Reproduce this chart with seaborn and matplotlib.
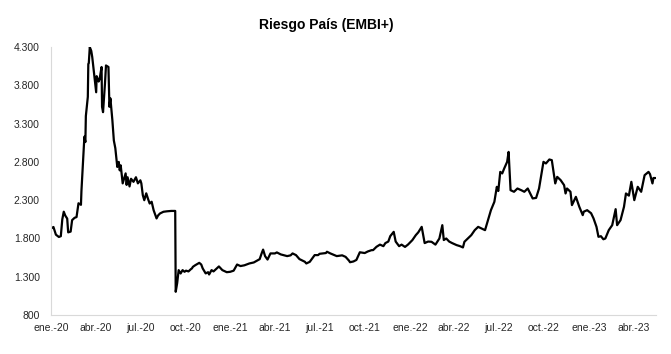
# Libraries
import pandas as pd
import seaborn as sns
import matplotlib.pyplot as plt
import matplotlib.dates as mdates
from matplotlib.ticker import FixedLocator, FuncFormatter

# -----------------------------------
# Configuration
# -----------------------------------
sns.set_theme(style="white")
plt.rcParams['font.family'] = ['Liberation Sans', 'DejaVu Sans']

# -----------------------------------
# Data
# -----------------------------------
fechas = [
    # 2020
    "2020-01-01", "2020-01-06", "2020-01-11", "2020-01-17", "2020-01-21", "2020-01-24",
    "2020-01-27", "2020-01-30", "2020-02-03", "2020-02-05", "2020-02-10", "2020-02-13",
    "2020-02-18", "2020-02-22", "2020-02-26", "2020-03-02", "2020-03-03", "2020-03-06",
    "2020-03-09", "2020-03-11", "2020-03-12", "2020-03-16", "2020-03-17", "2020-03-18",
    "2020-03-20", "2020-03-23", "2020-03-25", "2020-03-30", "2020-04-02", "2020-04-03",
    "2020-04-07", "2020-04-09", "2020-04-13", "2020-04-14", "2020-04-16", "2020-04-20",
    "2020-04-22", "2020-04-27", "2020-04-29", "2020-05-01", "2020-05-05", "2020-05-08",
    "2020-05-11", "2020-05-15", "2020-05-18", "2020-05-20", "2020-05-22", "2020-05-26",
    "2020-06-01", "2020-06-03", "2020-06-05", "2020-06-09", "2020-06-12", "2020-06-17",
    "2020-06-22", "2020-06-26", "2020-07-01", "2020-07-03", "2020-07-06", "2020-07-09",
    "2020-07-13", "2020-07-17", "2020-07-20", "2020-07-24", "2020-07-28", "2020-08-03",
    "2020-08-06", "2020-08-10", "2020-08-17", "2020-08-24", "2020-09-02", "2020-09-10",
    "2020-09-11", "2020-09-14", "2020-09-17", "2020-09-21", "2020-09-25", "2020-09-29",
    "2020-10-02", "2020-10-07", "2020-10-12", "2020-10-14", "2020-10-16", "2020-10-21",
    "2020-10-26", "2020-10-29", "2020-11-02", "2020-11-05", "2020-11-11", "2020-11-16",
    "2020-11-18", "2020-11-23", "2020-11-27", "2020-12-08", "2020-12-15", "2020-12-24",
    # 2021
    "2020-12-31", "2021-01-07", "2021-01-14", "2021-01-21", "2021-01-29", "2021-02-08",
    "2021-02-17", "2021-03-01", "2021-03-05", "2021-03-08", "2021-03-12", "2021-03-17",
    "2021-03-23", "2021-04-01", "2021-04-05", "2021-04-13", "2021-04-26", "2021-05-03",
    "2021-05-07", "2021-05-14", "2021-05-21", "2021-06-01", "2021-06-04", "2021-06-11",
    "2021-06-21", "2021-06-28", "2021-07-01", "2021-07-14", "2021-07-16", "2021-07-23",
    "2021-08-05", "2021-08-16", "2021-08-23", "2021-08-30", "2021-09-01", "2021-09-08",
    "2021-09-14", "2021-09-21", "2021-10-01", "2021-10-07", "2021-10-15", "2021-10-18",
    "2021-10-25", "2021-11-01", "2021-11-08", "2021-11-12", "2021-11-18", "2021-11-22",
    "2021-11-29", "2021-12-03", "2021-12-10", "2021-12-15", "2021-12-22", "2021-12-28",
    # 2022
    "2022-01-06", "2022-01-13", "2022-01-18", "2022-01-25", "2022-01-31", "2022-02-07",
    "2022-02-14", "2022-02-22", "2022-03-02", "2022-03-08", "2022-03-11", "2022-03-16",
    "2022-03-22", "2022-03-28", "2022-04-06", "2022-04-13", "2022-04-19", "2022-04-22",
    "2022-04-29", "2022-05-06", "2022-05-13", "2022-05-20", "2022-05-27", "2022-06-03",
    "2022-06-09", "2022-06-15", "2022-06-22", "2022-06-27", "2022-06-30", "2022-07-04",
    "2022-07-08", "2022-07-12", "2022-07-18", "2022-07-21", "2022-07-25", "2022-08-01",
    "2022-08-08", "2022-08-16", "2022-08-22", "2022-08-29", "2022-09-08", "2022-09-15",
    "2022-09-21", "2022-09-26", "2022-09-30", "2022-10-05", "2022-10-12", "2022-10-17",
    "2022-10-21", "2022-10-24", "2022-10-28", "2022-11-04", "2022-11-11", "2022-11-14",
    "2022-11-17", "2022-11-24", "2022-11-27", "2022-12-05", "2022-12-12", "2022-12-19",
    "2022-12-21", "2022-12-28",
    # 2023
    "2023-01-05", "2023-01-10", "2023-01-16", "2023-01-20", "2023-01-25", "2023-01-30",
    "2023-02-03", "2023-02-10", "2023-02-17", "2023-02-24", "2023-02-27", "2023-03-06",
    "2023-03-13", "2023-03-17", "2023-03-23", "2023-03-28", "2023-04-03", "2023-04-10",
    "2023-04-17", "2023-04-24", "2023-05-02", "2023-05-05", "2023-05-10", "2023-05-12",
    "2023-05-16",
]

embi = [
    # 2020
    1930, 1950, 1850, 1820, 1830, 2050,
    2150, 2100, 2060, 1880, 1890, 2040,
    2070, 2080, 2260, 2240, 2420, 2780,
    3130, 3060, 3400, 3650, 4080, 4090,
    4300, 4250, 4170, 3890, 3710, 3920,
    3850, 3880, 4040, 3520, 3450, 3830,
    4060, 4040, 3520, 3630, 3345, 3080,
    2980, 2735, 2800, 2690, 2755, 2520,
    2650, 2500, 2600, 2480, 2580, 2540,
    2600, 2520, 2560, 2520, 2366, 2300,
    2390, 2310, 2257, 2280, 2170, 2062,
    2100, 2127, 2149, 2155, 2160, 2160,
    1104, 1218, 1387, 1343, 1387, 1365,
    1380, 1370, 1400, 1409, 1430, 1452,
    1470, 1482, 1460, 1409, 1344, 1360,
    1330, 1387, 1370, 1435, 1387, 1360,
    # 2021
    1365, 1380, 1460, 1440, 1450, 1474,
    1487, 1530, 1605, 1655, 1570, 1525,
    1605, 1605, 1618, 1592, 1570, 1580,
    1605, 1583, 1531, 1496, 1474, 1495,
    1583, 1583, 1600, 1610, 1627, 1605,
    1570, 1580, 1560, 1510, 1490, 1500,
    1520, 1620, 1610, 1630, 1648, 1648,
    1692, 1720, 1700, 1740, 1760, 1831,
    1887, 1760, 1700, 1720, 1690, 1720,
    # 2022
    1779, 1844, 1880, 1952, 1740, 1760,
    1757, 1720, 1800, 1974, 1780, 1800,
    1760, 1740, 1714, 1700, 1683, 1757,
    1800, 1844, 1909, 1952, 1930, 1909,
    2040, 2170, 2279, 2475, 2420, 2670,
    2650, 2714, 2801, 2931, 2431, 2410,
    2453, 2430, 2410, 2453, 2323, 2330,
    2453, 2649, 2801, 2780, 2832, 2823,
    2649, 2519, 2605, 2562, 2497, 2388,
    2453, 2410, 2236, 2344, 2214, 2105,
    2150, 2170,
    # 2023
    2130, 2062, 1952, 1822, 1830, 1790,
    1800, 1909, 1974, 2183, 1974, 2040,
    2214, 2388, 2360, 2540, 2301, 2475,
    2410, 2627, 2670, 2640, 2519, 2590,
    2590,
]

# Axis ticks
tick_dates = pd.date_range("2020-01-01", "2023-04-01", freq="QS")
meses = {1: "ene.", 4: "abr.", 7: "jul.", 10: "oct."}
tick_labels = [f"{meses[d.month]}-{d.strftime('%y')}" for d in tick_dates]
y_ticks = [800, 1300, 1800, 2300, 2800, 3300, 3800, 4300]

# ------------------------------
# Build frame
# ------------------------------
data = pd.DataFrame({"fecha": pd.to_datetime(fechas), "embi": embi})

# ------------------------------
# Plot
# ------------------------------
fig = plt.figure(figsize=(6.71, 3.54), dpi=100)
ax = fig.add_axes([0.076, 0.110, 0.9015, 0.757])

sns.lineplot(data=data, x="fecha", y="embi", color="black", linewidth=1.6, ax=ax)

# Axes limits
ax.set_xlim(pd.Timestamp("2020-01-01"), pd.Timestamp("2023-05-17"))
ax.set_ylim(800, 4300)

# Ticks
ax.xaxis.set_major_locator(FixedLocator(mdates.date2num(tick_dates)))
ax.set_xticklabels(tick_labels)
ax.yaxis.set_major_locator(FixedLocator(y_ticks))
ax.yaxis.set_major_formatter(FuncFormatter(lambda v, p: f"{int(v):,}".replace(",", ".")))
ax.tick_params(axis="x", length=3, width=0.8, color="#bfbfbf", labelsize=7.5,
               labelcolor="#262626", pad=3)
ax.tick_params(axis="y", length=0, labelsize=7.5, labelcolor="#262626", pad=8)

# Format
for s in ["top", "right"]:
    ax.spines[s].set_visible(False)
for s in ["left", "bottom"]:
    ax.spines[s].set_color("#d9d9d9")
    ax.spines[s].set_linewidth(0.8)
ax.set_xlabel("")
ax.set_ylabel("")
fig.text(0.486, 0.93, "Riesgo País (EMBI+)", ha="center", va="center",
         fontsize=10, fontweight="bold", color="black")

# Save
fig.savefig("out.png", dpi=100)
